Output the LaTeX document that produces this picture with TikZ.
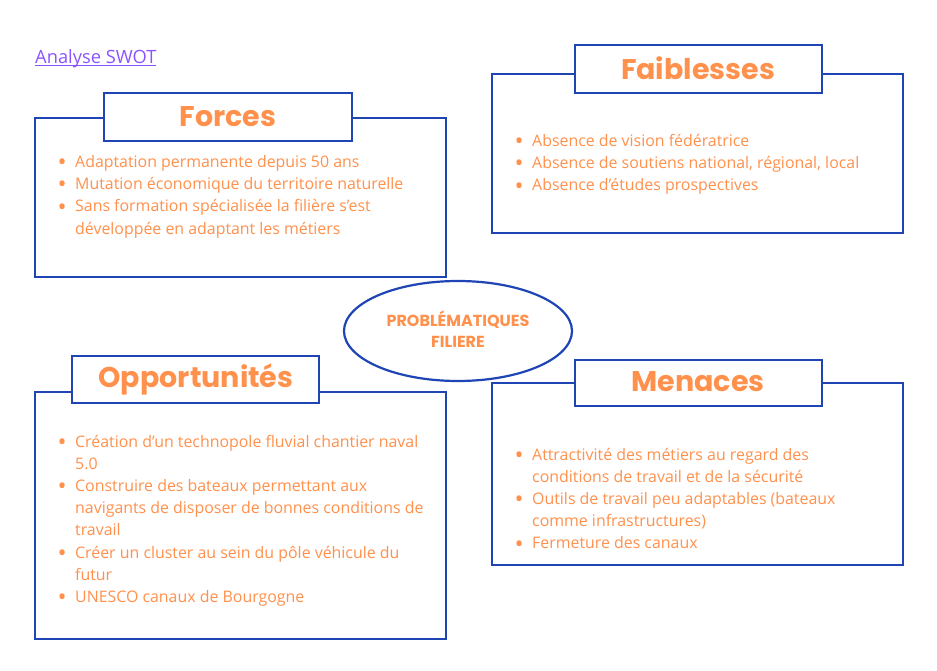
\documentclass[tikz,border=0pt]{standalone}
\usepackage{fontspec}
\setmainfont{Open Sans}
\newfontfamily\titlefont{Poppins}
\usetikzlibrary{shapes.geometric}
\definecolor{swotorange}{HTML}{FF914D}
\definecolor{swotblue}{HTML}{1F45B5}
\definecolor{swotpurple}{HTML}{8C52FF}
\newcommand{\bul}{\makebox[15pt][l]{\hspace{-2.5pt}\raisebox{-3.2pt}{\fontsize{24}{24}\selectfont •}}}
\newcommand{\cont}{\hspace*{15pt}}
\newcommand{\linkline}[1]{\setbox0\hbox{#1}\rlap{\rule[-2.6pt]{\wd0}{1.1pt}}\box0}
\tikzset{
  bigbox/.style={draw=swotblue, line width=2.8pt, fill=white},
  titlebox/.style={draw=swotblue, line width=2.8pt, fill=white},
  titletext/.style={text=swotorange, font=\titlefont\bfseries\fontsize{28.5}{30}\selectfont, inner sep=0pt},
  listtext/.style={text=swotorange, inner sep=0pt, anchor=base west, font=\fontsize{15.9}{22.2}\selectfont},
}
\begin{document}
\begin{tikzpicture}[x=1pt,y=-1pt]
\useasboundingbox (0,0) rectangle (937,671);
% link
\node[anchor=base west, inner sep=0pt, text=swotpurple, font=\fontsize{18.3}{20}\selectfont] (swot) at (35,63.5) {\linkline{Analyse SWOT}};

% Forces
\draw[bigbox] (35,118) rectangle (446,277);
\draw[titlebox] (104,93) rectangle (352,141);
\node[titletext] (forces) at (228,117) {Forces};
\node[listtext] (forceslist) at (60,167.5) {\begin{tabular}[t]{@{}l@{}}
\bul Adaptation permanente depuis 50 ans\\
\bul Mutation économique du territoire naturelle\\
\bul Sans formation spécialisée la filière s’est\\
\cont développée en adaptant les métiers
\end{tabular}};

% Faiblesses
\draw[bigbox] (492,74) rectangle (903,233);
\draw[titlebox] (575,45) rectangle (822,93);
\node[titletext] (faiblesses) at (698,68) {Faiblesses};
\node[listtext] (faiblesseslist) at (517,146.5) {\begin{tabular}[t]{@{}l@{}}
\bul Absence de vision fédératrice\\
\bul Absence de soutiens national, régional, local\\
\bul Absence d’études prospectives
\end{tabular}};

% Center ellipse
\node[draw=swotblue, line width=2.2pt, ellipse, minimum width=228pt, minimum height=100pt, fill=white] (center) at (458,331) {};
\node[text=swotorange, font=\titlefont\bfseries\fontsize{16}{21}\selectfont, align=center, inner sep=0pt] (centertext) at (458,329.5) {PROBLÉMATIQUES\\FILIERE};

% Opportunites
\draw[bigbox] (35,392) rectangle (446,639);
\draw[titlebox] (72,356) rectangle (319,403);
\node[titletext] (opportunites) at (196,379) {Opportunités};
\node[listtext] (opplist) at (60,447) {\begin{tabular}[t]{@{}l@{}}
\bul Création d’un technopole fluvial chantier naval\\
\cont 5.0\\
\bul Construire des bateaux permettant aux\\
\cont navigants de disposer de bonnes conditions de\\
\cont travail\\
\bul Créer un cluster au sein du pôle véhicule du\\
\cont futur\\
\bul UNESCO canaux de Bourgogne
\end{tabular}};

% Menaces
\draw[bigbox] (492,383) rectangle (903,565);
\draw[titlebox] (575,360) rectangle (822,406);
\node[titletext] (menaces) at (698,382) {Menaces};
\node[listtext] (menaceslist) at (517,460) {\begin{tabular}[t]{@{}l@{}}
\bul Attractivité des métiers au regard des\\
\cont conditions de travail et de la sécurité\\
\bul Outils de travail peu adaptables (bateaux\\
\cont comme infrastructures)\\
\bul Fermeture des canaux
\end{tabular}};
\end{tikzpicture}
\end{document}
